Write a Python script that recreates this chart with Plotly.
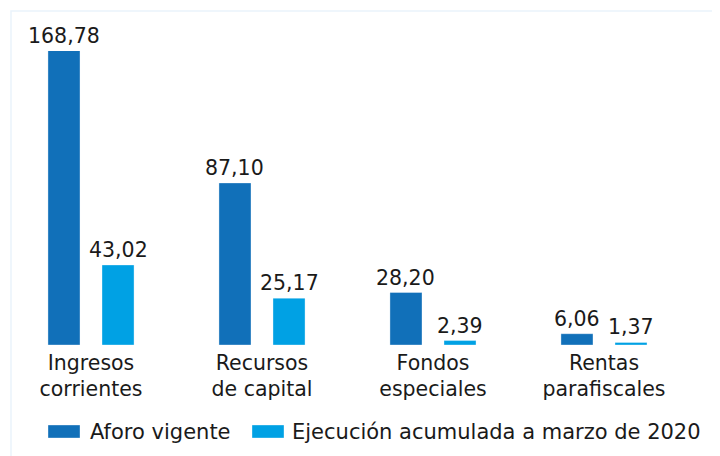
import plotly.graph_objects as go

# categories and series
categorias = ["Ingresos<br>corrientes", "Recursos<br>de capital", "Fondos<br>especiales", "Rentas<br>parafiscales"]
aforo_vigente = [168.78, 87.10, 28.20, 6.06]
ejecucion_marzo = [43.02, 25.17, 2.39, 1.37]
series_names = ["Aforo vigente", "Ejecución acumulada a marzo de 2020"]
colors = ["#1170b9", "#00a1e4"]

ymax = 158  # the first bar runs past the top, like the original
bargap = 0.368
bargroupgap = 0.407

# page has an 8px body margin, so the figure is a bit smaller than the window
OFF = 8
W, H = 712, 448
ml, mr, mt, mb = 0, 30, 43, 111
pw, ph = W - ml - mr, H - mt - mb


# helpers take window pixel positions and give paper coords
def px_x(x):
    return (x - OFF - ml) / pw


def px_y(y):
    return (H - mb - (y - OFF)) / ph


def fmt(v):
    return f"{v:.2f}".replace(".", ",")


fig = go.Figure()
for name, vals, col in zip(series_names, [aforo_vigente, ejecucion_marzo], colors):
    fig.add_trace(go.Bar(x=categorias, y=vals, name=name,
                         marker=dict(color=col, line=dict(color="rgba(255,255,255,0.35)", width=1)),
                         hoverinfo="y"))

# value labels over each bar
slot = (1 - bargap) / 2
for k, vals in enumerate([aforo_vigente, ejecucion_marzo]):
    for i, v in enumerate(vals):
        xpos = i - slot / 2 + k * slot
        fig.add_annotation(x=xpos, y=min(v, ymax), text=fmt(v), showarrow=False,
                           xref="x", yref="y", yanchor="bottom", yshift=1,
                           font=dict(size=20.5, color="#1a1a1a"))

# faint frame around the chart
fig.add_shape(type="rect", xref="paper", yref="paper",
              x0=px_x(11), x1=px_x(760), y0=px_y(500), y1=px_y(11),
              line=dict(color="#eaf3fc", width=1.5), fillcolor="rgba(0,0,0,0)", layer="below")

# legend drawn by hand (wide swatches like the original)
leg = [(48, 88), (252, 290)]
for (sx, tx), name, col in zip(leg, series_names, colors):
    fig.add_shape(type="rect", xref="paper", yref="paper",
                  x0=px_x(sx), x1=px_x(sx + 32), y0=px_y(438), y1=px_y(425),
                  fillcolor=col, line=dict(color="rgba(255,255,255,0.35)", width=1))
    fig.add_annotation(x=px_x(tx), y=px_y(431.5), xref="paper", yref="paper",
                       text=name, showarrow=False, xanchor="left", yanchor="middle",
                       font=dict(size=21, color="#1a1a1a"))

fig.update_layout(
    width=W, height=H,
    margin=dict(l=ml, r=mr, t=mt, b=mb),
    paper_bgcolor="white", plot_bgcolor="white",
    barmode="group", bargap=bargap, bargroupgap=bargroupgap,
    showlegend=False,
    font=dict(family="DejaVu Sans, Arial, sans-serif", color="#1a1a1a"),
)
fig.update_xaxes(range=[-0.4854, 3.503], showline=False, showgrid=False, ticks="",
                 ticklabelstandoff=3, tickfont=dict(size=20.5, color="#1a1a1a"))
fig.update_yaxes(range=[0, ymax], visible=False, showgrid=False, zeroline=False)

fig.write_html("out.html")
